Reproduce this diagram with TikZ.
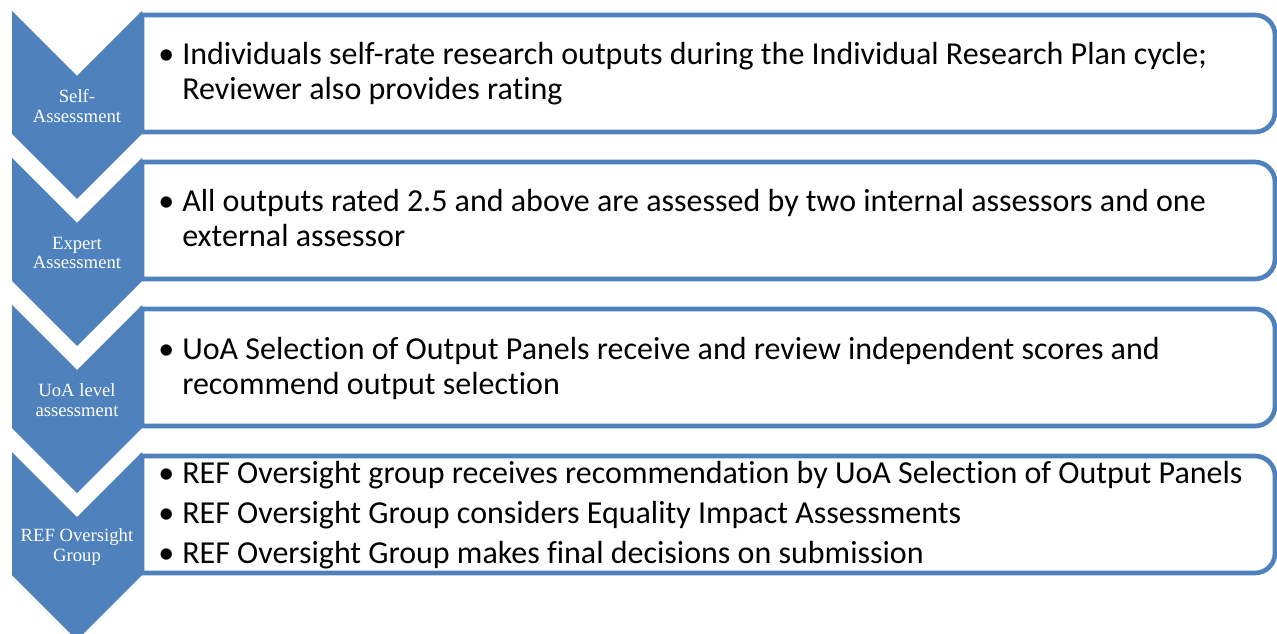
\documentclass[tikz,border=0pt]{standalone}
\usepackage{fontspec}
\setmainfont[Ligatures=NoCommon]{Carlito}
\newfontfamily\chevfont{Liberation Serif}
\begin{document}
\begin{tikzpicture}[x=0.75pt,y=0.75pt,yscale=-1,xscale=1,
  chevron/.style={fill={rgb, 255:red, 79; green, 129; blue, 189 },draw=none},
  listbox/.style={draw={rgb, 255:red, 79; green, 129; blue, 189 },line width=3.5pt,fill=white},
  chevlabel/.style={color=white,align=center,inner sep=0pt,font=\chevfont\fontsize{14}{14.5}\selectfont},
  itemtext/.style={anchor=base west,align=left,inner sep=0pt,font=\fontsize{24}{26.25}\selectfont},
  bullet/.style={anchor=base west,inner sep=0pt,font=\fontsize{24}{26.25}\selectfont}]
\useasboundingbox (0,0) rectangle (1277,634);

%boxes on the right
\draw [listbox] (142,15) -- (1255,15) arc [start angle=-90, end angle=0, radius=20] -- (1275,112) arc [start angle=0, end angle=90, radius=20] -- (142,132) -- cycle ;
\draw [listbox] (142,162) -- (1255,162) arc [start angle=-90, end angle=0, radius=20] -- (1275,259) arc [start angle=0, end angle=90, radius=20] -- (142,279) -- cycle ;
\draw [listbox] (142,309) -- (1255,309) arc [start angle=-90, end angle=0, radius=20] -- (1275,406) arc [start angle=0, end angle=90, radius=20] -- (142,426) -- cycle ;
\draw [listbox] (142,456) -- (1255,456) arc [start angle=-90, end angle=0, radius=20] -- (1275,553) arc [start angle=0, end angle=90, radius=20] -- (142,573) -- cycle ;

%chevrons on the left
\draw [chevron] (12,11) -- (77,76) -- (142,11) -- (142,134) -- (77,199) -- (12,134) -- cycle ;
\draw [chevron] (12,158) -- (77,223) -- (142,158) -- (142,281) -- (77,346) -- (12,281) -- cycle ;
\draw [chevron] (12,305) -- (77,370) -- (142,305) -- (142,428) -- (77,493) -- (12,428) -- cycle ;
\draw [chevron] (12,452) -- (77,517) -- (142,452) -- (142,575) -- (77,640) -- (12,575) -- cycle ;

\node [chevlabel] (selfLbl) at (77,106) {Self-\\Assessment};
\node [chevlabel] (expertLbl) at (77,253) {Expert\\Assessment};
\node [chevlabel] (uoaLbl) at (77,400) {UoA level\\assessment};
\node [chevlabel] (refLbl) at (77,547) {REF Oversight\\Group};

%bullet texts (two-line items sit on the baseline of their last line)
\node [bullet] (selfB) at (158,65) {•};
\node [itemtext] (selfTxt) at (182,100) {Individuals self-rate research outputs during the Individual Research Plan cycle;\\Reviewer also provides rating};
\node [bullet] (expertB) at (158,212) {•};
\node [itemtext] (expertTxt) at (182,247) {All outputs rated 2.5 and above are assessed by two internal assessors and one\\external assessor};
\node [bullet] (uoaB) at (158,359) {•};
\node [itemtext] (uoaTxt) at (182,394) {UoA Selection of Output Panels receive and review independent scores and\\recommend output selection};
\node [bullet] (refB1) at (158,483) {•};
\node [itemtext] (refTxt1) at (182,483) {REF Oversight group receives recommendation by UoA Selection of Output Panels};
\node [bullet] (refB2) at (158,523) {•};
\node [itemtext] (refTxt2) at (182,523) {REF Oversight Group considers Equality Impact Assessments};
\node [bullet] (refB3) at (158,563) {•};
\node [itemtext] (refTxt3) at (182,563) {REF Oversight Group makes final decisions on submission};

\end{tikzpicture}
\end{document}
